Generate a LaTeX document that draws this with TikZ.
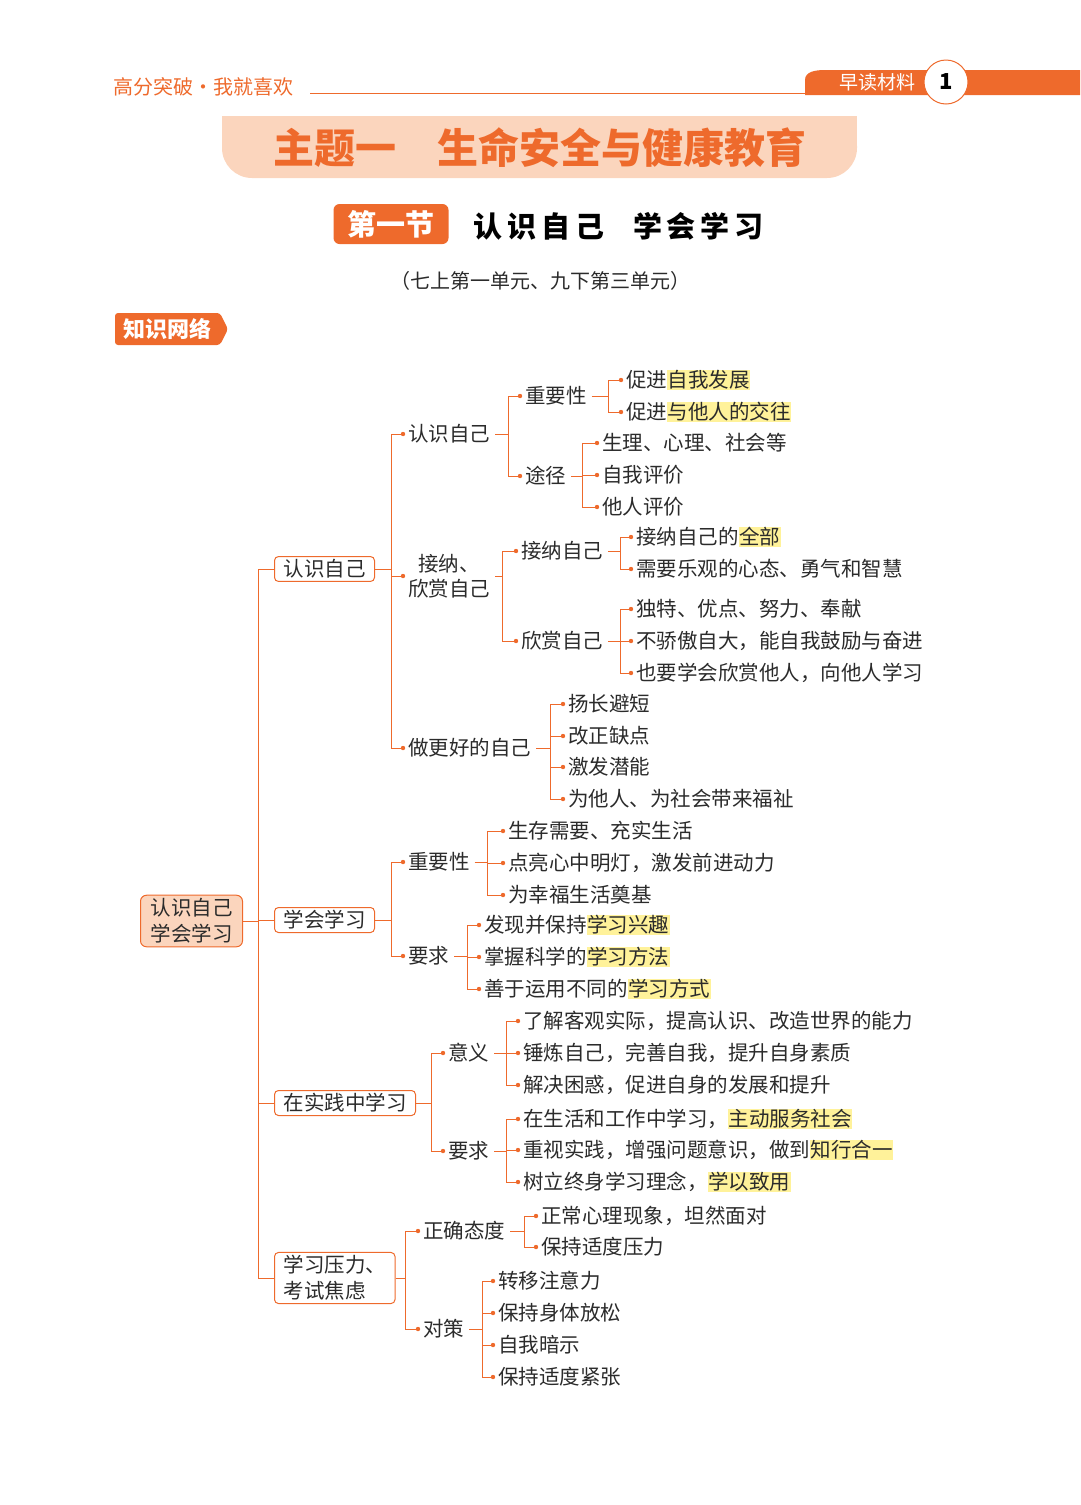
\documentclass[tikz,border=0pt]{standalone}
\usepackage{fontspec}
\setmainfont{Noto Sans CJK SC}
\usetikzlibrary{calc}
\definecolor{org}{HTML}{EE6A2C}
\definecolor{peach}{HTML}{FBD5BD}
\definecolor{hly}{HTML}{FFF29A}
\definecolor{txt}{HTML}{2B2B2B}
\newcommand\hl[1]{{\setlength\fboxsep{0.5pt}\colorbox{hly}{#1}}}
\tikzset{
 x=1pt,y=-1pt,
 t/.style={anchor=west,inner xsep=5pt,inner ysep=1pt,text=txt,font=\fontsize{20.5}{25}\selectfont},
 bx/.style={anchor=west,draw=org,line width=1pt,rounded corners=4pt,fill=white,text=txt,inner xsep=9pt,inner ysep=3pt,font=\fontsize{20.5}{26}\selectfont,align=left},
 ln/.style={draw=org,line width=0.9pt},
}
\newcommand\kids[3]{%
 \foreach \c in {#3}{\draw[ln] (#1.east) -- (#2,0 |- #1.east) |- (\c.west); \fill[org] (\c.west) circle (2.2);}}
\begin{document}
\begin{tikzpicture}
\useasboundingbox (0,0) rectangle (1080,1505);
% header
\node[anchor=west,text=org,font=\fontsize{20}{22}\selectfont] (hd) at (110,87) {高分突破·我就喜欢};
\draw[org,line width=1pt] (310,93) -- (810,93);
\fill[org] (805,95) -- (805,80) to[out=90,in=180] (825,70) -- (1080,70) -- (1080,95) -- cycle;
\node[text=white,font=\fontsize{19}{21}\selectfont] (tab) at (877,82) {早读材料};
\node[circle,draw=org,fill=white,line width=1pt,minimum size=44pt,inner sep=0pt,font=\bfseries\fontsize{22}{24}\selectfont] (pg) at (946,82) {1};
% title
\fill[peach,rounded corners=30pt] (222,116) rectangle (857,178);
\fill[peach] (222,116) rectangle (857,145);
\node[text=org,font=\bfseries\fontsize{41}{44}\selectfont] (ttl) at (540,148) {主题一\quad 生命安全与健康教育};
\node[fill=org,rounded corners=6pt,text=white,minimum width=115pt,minimum height=40pt,font=\bfseries\fontsize{29}{30}\selectfont] (sec) at (391,224) {第一节};
\node[anchor=west,font=\bfseries\fontsize{29}{30}\selectfont] (sub) at (470,226) {认\,识\,自\,己\quad 学\,会\,学\,习};
\node[text=txt,font=\fontsize{20}{22}\selectfont] (unit) at (540,281) {（七上第一单元、九下第三单元）};
\fill[org,rounded corners=3pt] (115,313) -- (220,313) -- (228,329) -- (220,345) -- (115,345) -- cycle;
\node[text=white,font=\bfseries\fontsize{22}{23}\selectfont] (kn) at (167,329) {知识网络};
% root
\node[draw=org,fill=peach,line width=1pt,rounded corners=6pt,anchor=west,inner xsep=10pt,align=left,font=\fontsize{20.5}{26}\selectfont,text=txt] (root) at (140,921) {认识自己\\学会学习};
\node[bx] (b1) at (274,569) {认识自己};
\node[bx] (b2) at (274,920) {学会学习};
\node[bx] (b3) at (274,1103) {在实践中学习};
\node[bx] (b4) at (274,1278) {学习压力、\\考试焦虑};
\foreach \b in {b1,b2,b3,b4} \draw[ln] (root.east) -- (258,0 |- root.east) |- (\b.west);
% branch 1
\node[t] (a1) at (403,434) {认识自己};
\node[t,align=center] (a2) at (403,576) {接纳、\\欣赏自己};
\node[t] (a3) at (403,748) {做更好的自己};
\kids{b1}{391}{a1,a2,a3}
\node[t] (a11) at (520,396) {重要性};
\node[t] (a12) at (520,476) {途径};
\kids{a1}{508}{a11,a12}
\node[t] (a111) at (621,380) {促进\hl{自我发展}};
\node[t] (a112) at (621,412) {促进\hl{与他人的交往}};
\kids{a11}{608}{a111,a112}
\node[t] (a121) at (597,443) {生理、心理、社会等};
\node[t] (a122) at (597,475) {自我评价};
\node[t] (a123) at (597,507) {他人评价};
\kids{a12}{582}{a121,a122,a123}
\node[t] (a21) at (516,551) {接纳自己};
\node[t] (a22) at (516,641) {欣赏自己};
\kids{a2}{502}{a21,a22}
\node[t] (a211) at (631,537) {接纳自己的\hl{全部}};
\node[t] (a212) at (631,569) {需要乐观的心态、勇气和智慧};
\kids{a21}{620}{a211,a212}
\node[t] (a221) at (631,609) {独特、优点、努力、奉献};
\node[t] (a222) at (631,641) {不骄傲自大，能自我鼓励与奋进};
\node[t] (a223) at (631,673) {也要学会欣赏他人，向他人学习};
\kids{a22}{620}{a221,a222,a223}
\node[t] (a31) at (563,704) {扬长避短};
\node[t] (a32) at (563,736) {改正缺点};
\node[t] (a33) at (563,767) {激发潜能};
\node[t] (a34) at (563,799) {为他人、为社会带来福祉};
\kids{a3}{550}{a31,a32,a33,a34}
% branch 2
\node[t] (c1) at (403,862) {重要性};
\node[t] (c2) at (403,956) {要求};
\kids{b2}{391}{c1,c2}
\node[t] (c11) at (503,831) {生存需要、充实生活};
\node[t] (c12) at (503,863) {点亮心中明灯，激发前进动力};
\node[t] (c13) at (503,895) {为幸福生活奠基};
\kids{c1}{487}{c11,c12,c13}
\node[t] (c21) at (479,925) {发现并保持\hl{学习兴趣}};
\node[t] (c22) at (479,957) {掌握科学的\hl{学习方法}};
\node[t] (c23) at (479,989) {善于运用不同的\hl{学习方式}};
\kids{c2}{467}{c21,c22,c23}
% branch 3
\node[t] (d1) at (443,1053) {意义};
\node[t] (d2) at (443,1151) {要求};
\kids{b3}{431}{d1,d2}
\node[t] (d11) at (518,1021) {了解客观实际，提高认识、改造世界的能力};
\node[t] (d12) at (518,1053) {锤炼自己，完善自我，提升自身素质};
\node[t] (d13) at (518,1085) {解决困惑，促进自身的发展和提升};
\kids{d1}{506}{d11,d12,d13}
\node[t] (d21) at (518,1119) {在生活和工作中学习，\hl{主动服务社会}};
\node[t] (d22) at (518,1150) {重视实践，增强问题意识，做到\hl{知行合一}};
\node[t] (d23) at (518,1182) {树立终身学习理念，\hl{学以致用}};
\kids{d2}{506}{d21,d22,d23}
% branch 4
\node[t] (e1) at (418,1231) {正确态度};
\node[t] (e2) at (418,1329) {对策};
\kids{b4}{405}{e1,e2}
\node[t] (e11) at (536,1216) {正常心理现象，坦然面对};
\node[t] (e12) at (536,1247) {保持适度压力};
\kids{e1}{524}{e11,e12}
\node[t] (e21) at (493,1281) {转移注意力};
\node[t] (e22) at (493,1313) {保持身体放松};
\node[t] (e23) at (493,1345) {自我暗示};
\node[t] (e24) at (493,1377) {保持适度紧张};
\kids{e2}{482}{e21,e22,e23,e24}
\end{tikzpicture}
\end{document}
